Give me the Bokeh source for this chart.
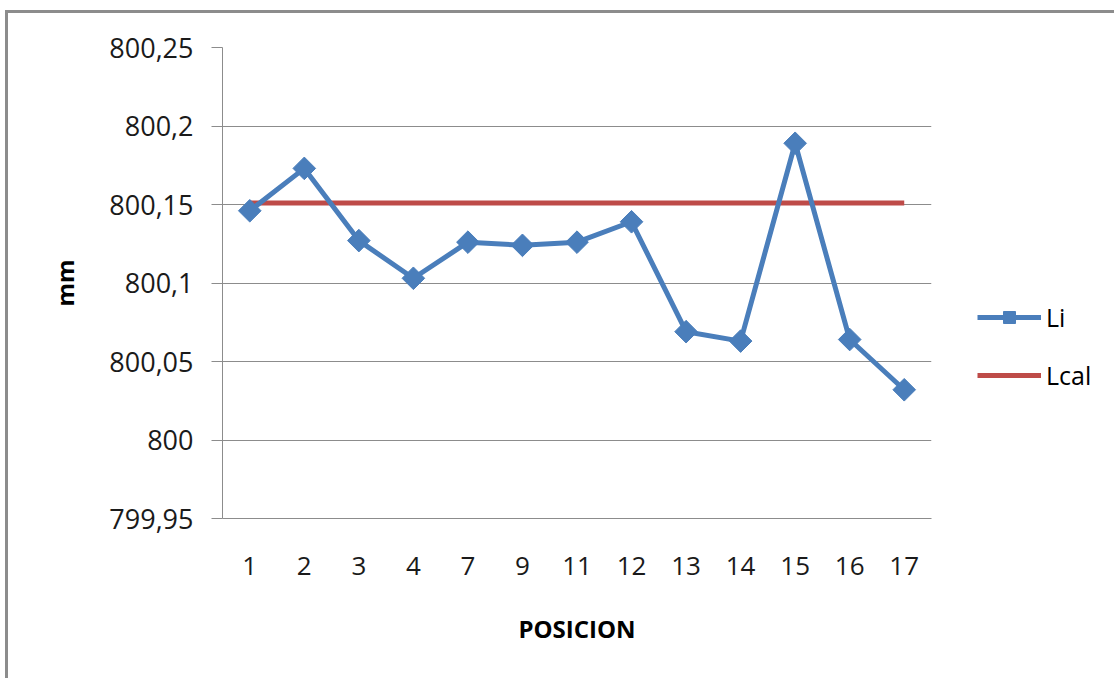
from bokeh.plotting import figure
from bokeh.models import (FactorRange, Range1d, FixedTicker, CustomJSTickFormatter,
                          Legend, LegendItem, ColumnDataSource)
from bokeh.embed import file_html
from bokeh.resources import INLINE
import math

# ---- data ----
posicion = ["1", "2", "3", "4", "7", "9", "11", "12", "13", "14", "15", "16", "17"]
li_values = [800.146, 800.173, 800.127, 800.103, 800.126, 800.124, 800.126,
             800.139, 800.069, 800.063, 800.189, 800.064, 800.032]
lcal_value = 800.151
lcal_values = [lcal_value] * len(posicion)
y_ticks = [799.95, 800.0, 800.05, 800.1, 800.15, 800.2, 800.25]

BLUE = "#4A7EBB"
RED = "#BE4B48"
GRID = "#8C8C8C"
FONT = "Open Sans"

src = ColumnDataSource(dict(x=posicion, li=li_values, lcal=lcal_values))

p = figure(frame_width=709, frame_height=471, output_backend="svg", toolbar_location=None,
           x_range=FactorRange(factors=posicion, range_padding=0),
           y_range=Range1d(799.95, 800.25))
p.styles = {"border-left": "3px solid #8C8C8C", "border-top": "3px solid #8C8C8C",
            "margin-left": "5px", "margin-top": "10px"}

p.min_border_left = 214
p.min_border_top = 34
p.min_border_right = 177
p.min_border_bottom = 160
p.outline_line_color = None
p.background_fill_color = "white"
p.border_fill_color = "white"

# grids
p.xgrid.grid_line_color = None
p.ygrid.grid_line_color = GRID
p.ygrid.grid_line_width = 1

# y axis
p.yaxis.ticker = FixedTicker(ticks=y_ticks)
p.yaxis.formatter = CustomJSTickFormatter(code="""
    let s = tick.toFixed(2);
    s = s.replace(/0+$/, '').replace(/\\.$/, '');
    return s.replace('.', ',');
""")
p.yaxis.axis_line_color = GRID
p.yaxis.major_tick_line_color = GRID
p.yaxis.major_tick_out = 11
p.yaxis.major_tick_in = 0
p.yaxis.minor_tick_line_color = None
p.yaxis.major_label_text_font = FONT
p.yaxis.major_label_text_font_size = "27px"
p.yaxis.major_label_text_color = "#1a1a1a"
p.yaxis.major_label_standoff = 18
p.yaxis.axis_label = "mm"
p.yaxis.axis_label_text_font = FONT
p.yaxis.axis_label_text_font_style = "bold"
p.yaxis.axis_label_text_font_size = "24px"
p.yaxis.axis_label_text_color = "#000000"
p.yaxis.axis_label_standoff = 25

# x axis
p.xaxis.axis_line_color = GRID
p.xaxis.major_tick_line_color = None
p.xaxis.major_tick_out = 0
p.xaxis.major_tick_in = 0
p.xaxis.major_label_text_font = FONT
p.xaxis.major_label_text_font_size = "26px"
p.xaxis.major_label_text_color = "#1a1a1a"
p.xaxis.major_label_standoff = 38
p.xaxis.axis_label = "POSICION"
p.xaxis.axis_label_text_font = FONT
p.xaxis.axis_label_text_font_style = "bold"
p.xaxis.axis_label_text_font_size = "24px"
p.xaxis.axis_label_text_color = "#000000"
p.xaxis.axis_label_standoff = 34

# series
r_lcal = p.line("x", "lcal", source=src, line_color=RED, line_width=5)
r_li = p.line("x", "li", source=src, line_color=BLUE, line_width=5)
r_lim = p.scatter("x", "li", source=src, marker="square", angle=math.pi / 4,
                  size=16, fill_color=BLUE, line_color=BLUE)

legend = Legend(items=[LegendItem(label="Li", renderers=[r_li, r_lim]),
                       LegendItem(label="Lcal", renderers=[r_lcal])],
                location=(46, 126), orientation="vertical",
                glyph_width=64, glyph_height=30, label_height=30,
                label_standoff=5, spacing=24, padding=0, margin=0,
                border_line_color=None, background_fill_alpha=0,
                label_text_font=FONT, label_text_font_size="25px",
                label_text_color="#000000")
p.add_layout(legend, "right")

open("out.html", "w").write(file_html(p, INLINE))
